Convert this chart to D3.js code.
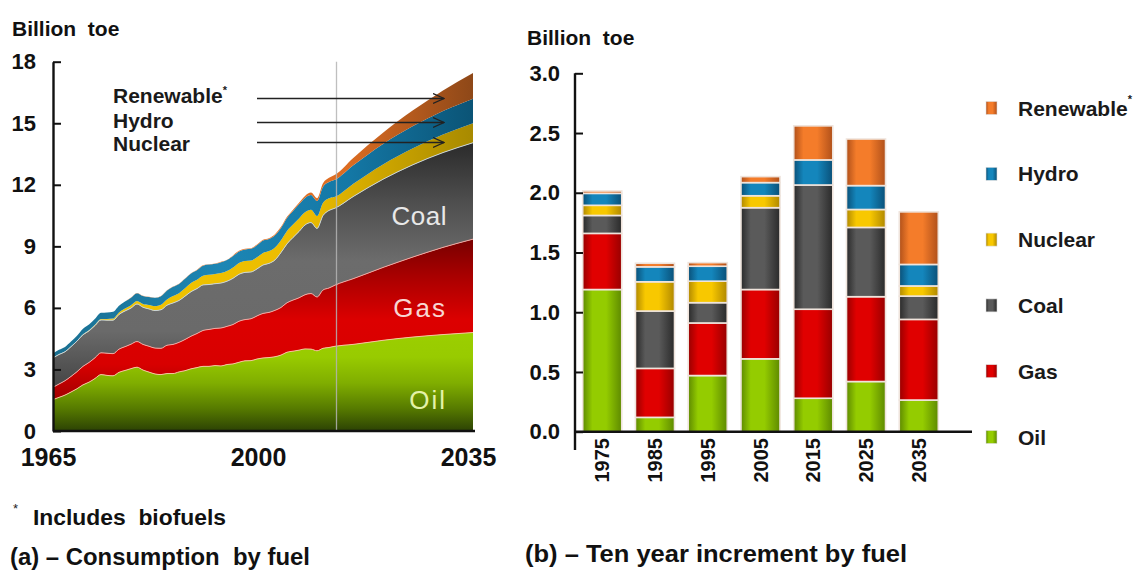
<!DOCTYPE html>
<html>
<head>
<meta charset="utf-8">
<script src="https://cdn.jsdelivr.net/npm/d3@7"></script>
<style>
  body { margin: 0; background: #fff; }
  svg { display: block; font-family: "Liberation Sans", Arial, Helvetica, sans-serif; }
</style>
</head>
<body>
<svg id="chart" width="1145" height="572"></svg>
<script>
// ---- (a) Consumption by fuel, billion toe ----
const years = [1965,1966,1967,1968,1969,1970,1971,1972,1973,1974,1975,1976,1977,1978,1979,
  1980,1981,1982,1983,1984,1985,1986,1987,1988,1989,1990,1991,1992,1993,1994,1995,1996,1997,
  1998,1999,2000,2001,2002,2003,2004,2005,2006,2007,2008,2009,2010,2011,2012,
  2015,2020,2025,2030,2035];
const oil = [1.53,1.64,1.75,1.90,2.06,2.25,2.38,2.56,2.75,2.71,2.69,2.86,2.95,3.04,3.11,
  2.97,2.87,2.78,2.75,2.80,2.80,2.88,2.94,3.03,3.09,3.15,3.15,3.19,3.17,3.24,3.27,3.35,3.42,
  3.43,3.51,3.56,3.58,3.62,3.70,3.84,3.89,3.94,4.00,3.99,3.91,4.03,4.07,4.13,
  4.22,4.42,4.58,4.70,4.80];
const gas = [0.60,0.65,0.70,0.76,0.83,0.90,0.96,1.01,1.06,1.08,1.08,1.13,1.16,1.19,1.25,
  1.25,1.26,1.26,1.28,1.38,1.42,1.44,1.52,1.59,1.66,1.75,1.80,1.81,1.85,1.86,1.92,2.00,2.01,
  2.04,2.10,2.17,2.20,2.26,2.32,2.41,2.49,2.55,2.64,2.71,2.62,2.84,2.90,2.98,
  3.20,3.55,3.90,4.25,4.55];
const coal = [1.43,1.44,1.41,1.45,1.49,1.54,1.54,1.57,1.60,1.61,1.63,1.69,1.74,1.76,1.83,
  1.81,1.82,1.83,1.88,1.95,2.02,2.04,2.11,2.17,2.19,2.22,2.19,2.18,2.19,2.20,2.25,2.29,2.30,
  2.28,2.29,2.36,2.39,2.46,2.68,2.87,3.05,3.23,3.40,3.46,3.34,3.63,3.78,3.75,
  4.00,4.30,4.50,4.62,4.70];
const nuclear = [0.01,0.01,0.01,0.01,0.01,0.02,0.03,0.04,0.05,0.06,0.08,0.10,0.12,0.14,0.15,
  0.16,0.19,0.21,0.24,0.28,0.34,0.36,0.39,0.42,0.43,0.45,0.47,0.47,0.49,0.50,0.53,0.55,0.55,
  0.56,0.57,0.59,0.60,0.61,0.60,0.63,0.63,0.64,0.62,0.62,0.61,0.63,0.60,0.56,
  0.62,0.72,0.80,0.88,0.95];
const hydro = [0.21,0.22,0.23,0.24,0.25,0.27,0.28,0.29,0.30,0.32,0.33,0.33,0.34,0.37,0.38,
  0.39,0.39,0.41,0.42,0.44,0.45,0.45,0.46,0.47,0.47,0.49,0.50,0.50,0.53,0.53,0.56,0.56,0.57,
  0.57,0.58,0.60,0.59,0.59,0.60,0.63,0.66,0.69,0.70,0.72,0.73,0.78,0.79,0.83,
  0.90,1.00,1.08,1.15,1.20];
const renewable = [0.00,0.00,0.00,0.00,0.00,0.00,0.00,0.00,0.00,0.00,0.00,0.00,0.00,0.01,0.01,
  0.01,0.01,0.01,0.01,0.01,0.01,0.01,0.01,0.01,0.02,0.02,0.02,0.02,0.02,0.02,0.03,0.03,0.03,
  0.03,0.04,0.04,0.04,0.05,0.05,0.06,0.07,0.08,0.10,0.12,0.14,0.17,0.20,0.24,
  0.36,0.55,0.77,1.00,1.25];
const lastHistoryYear = 2012;
const yearTicks = [1965, 2000, 2035];
const consumptionTicks = [0, 3, 6, 9, 12, 15, 18];

// ---- (b) Ten year increment by fuel, billion toe ----
const decades = ["1975","1985","1995","2005","2015","2025","2035"];
const incOil       = [1.19, 0.12, 0.47, 0.61, 0.28,  0.42, 0.265];
const incGas       = [0.47, 0.41, 0.44, 0.58, 0.745, 0.71, 0.675];
const incCoal      = [0.15, 0.48, 0.17, 0.685,1.04,  0.58, 0.195];
const incNuclear   = [0.085,0.245,0.18, 0.10, 0.00,  0.15, 0.085];
const incHydro     = [0.10, 0.125,0.125,0.11, 0.21,  0.20, 0.18];
const incRenewable = [0.02, 0.03, 0.03, 0.05, 0.285, 0.39, 0.44];
const incrementTicks = [0, 0.5, 1.0, 1.5, 2.0, 2.5, 3.0];

const fuels = ["Oil", "Gas", "Coal", "Nuclear", "Hydro", "Renewable"];

const svg = d3.select("#chart");
const defs = svg.append("defs");

function gradient(id, attrs, stops) {
  const g = defs.append("linearGradient").attr("id", id);
  Object.entries(attrs).forEach(([k, v]) => g.attr(k, v));
  stops.forEach(([o, c]) => g.append("stop").attr("offset", o).attr("stop-color", c));
}

// Area fills: shaded in plot space
const vAttrs = { gradientUnits: "userSpaceOnUse", x1: 0, x2: 0, y1: 61, y2: 431 };
const hAttrs = { gradientUnits: "userSpaceOnUse", x1: 53, x2: 473, y1: 0, y2: 0 };
gradient("aOil", vAttrs, [[0.72, "#9ccf00"], [0.80, "#98cb00"], [0.87, "#80ae00"], [0.94, "#567a00"], [1, "#2c4204"]]);
gradient("aGas", vAttrs, [[0.45, "#680000"], [0.58, "#a80000"], [0.70, "#dc0000"], [0.82, "#d80000"], [0.92, "#a00000"], [1, "#6a0000"]]);
gradient("aCoal", vAttrs, [[0.20, "#262626"], [0.38, "#4e4e4e"], [0.54, "#6c6c6c"], [0.73, "#6a6a6a"], [0.86, "#4a4a4a"], [0.97, "#343434"]]);
gradient("aNuclear", hAttrs, [[0, "#f2c800"], [0.6, "#ecbc00"], [1, "#a88a00"]]);
gradient("aHydro", hAttrs, [[0, "#1a6f90"], [0.4, "#1d86b4"], [0.7, "#1478a6"], [1, "#0b5476"]]);
gradient("aRenewable", hAttrs, [[0, "#f08030"], [0.7, "#dc6c22"], [1, "#8e4818"]]);

// Bar fills: cylinder-like shading across each bar
const barColors = {
  Oil: ["#5e8a00", "#94cc00"], Gas: ["#980000", "#e00000"], Coal: ["#2a2a2a", "#5a5a5a"],
  Nuclear: ["#b08800", "#f8c800"], Hydro: ["#0a5078", "#1486bc"], Renewable: ["#b0501a", "#f47c2a"]
};
fuels.forEach(f => {
  const [edge, mid] = barColors[f];
  gradient("b" + f, { x1: 0, x2: 1, y1: 0, y2: 0 },
    [[0, edge], [0.25, mid], [0.6, mid], [1, edge]]);
});

defs.append("marker").attr("id", "arrow")
  .attr("viewBox", "0 -6 12 12").attr("refX", 11).attr("refY", 0)
  .attr("markerUnits", "userSpaceOnUse").attr("markerWidth", 12).attr("markerHeight", 12)
  .attr("orient", "auto")
  .append("path").attr("d", "M0,-5L11,0L0,5").attr("fill", "none")
  .attr("stroke", "#222").attr("stroke-width", 1.3);

// ================= Panel (a): stacked area =================
const xA = d3.scaleLinear().domain([1965, 2035]).range([53, 473]);
const yA = d3.scaleLinear().domain([0, 18]).range([431, 61.7]);

const rows = years.map((y, i) => ({
  year: y, Oil: oil[i], Gas: gas[i], Coal: coal[i],
  Nuclear: nuclear[i], Hydro: hydro[i], Renewable: renewable[i]
}));
const layers = d3.stack().keys(fuels)(rows);

const area = d3.area()
  .x(d => xA(d.data.year)).y0(d => yA(d[0])).y1(d => yA(d[1]))
  .curve(d3.curveMonotoneX);

const gA = svg.append("g");
gA.selectAll("path.layer").data(layers).join("path")
  .attr("class", "layer")
  .attr("d", area)
  .attr("fill", d => `url(#a${d.key})`);

// thin light seams on top of oil, gas and coal
const seam = d3.line().x(d => xA(d.data.year)).y(d => yA(d[1])).curve(d3.curveMonotoneX);
const seamColor = { Oil: "#f3c89c", Gas: "#f2a7a0", Coal: "#c9d3d6" };
gA.selectAll("path.seam").data(layers.filter(l => seamColor[l.key])).join("path")
  .attr("class", "seam")
  .attr("d", seam).attr("fill", "none")
  .attr("stroke", d => seamColor[d.key]).attr("stroke-width", 1);

// boundary between history and projection
gA.append("line")
  .attr("x1", xA(lastHistoryYear) + 1.5).attr("x2", xA(lastHistoryYear) + 1.5)
  .attr("y1", yA(18)).attr("y2", yA(0))
  .attr("stroke", "#b4b4b4").attr("stroke-width", 1.3).attr("opacity", 0.85);

// axes
const axA = svg.append("g").attr("transform", `translate(${xA(1965)},0)`)
  .call(d3.axisLeft(yA).tickValues(consumptionTicks).tickFormat(d3.format("d"))
    .tickSizeInner(-8).tickSizeOuter(0).tickPadding(17));
axA.selectAll("text").attr("font-size", 22).attr("font-weight", "bold").attr("fill", "#111")
  .attr("font-family", "'Liberation Sans', Arial, sans-serif");
axA.selectAll("line").attr("stroke", "#111").attr("stroke-width", 2);
axA.select(".domain").attr("stroke", "#111").attr("stroke-width", 2.4);

const bxA = svg.append("g").attr("transform", `translate(0,${yA(0)})`)
  .call(d3.axisBottom(xA).tickValues(yearTicks).tickFormat(d3.format("d"))
    .tickSize(0).tickPadding(17));
bxA.select(".domain").attr("d", `M${xA(1965)},0H475`).attr("stroke", "#111").attr("stroke-width", 2.4);
bxA.selectAll("text").attr("font-size", 25).attr("font-weight", "bold").attr("fill", "#111")
  .attr("x", -5).attr("font-family", "'Liberation Sans', Arial, sans-serif");

svg.append("text").attr("x", 12).attr("y", 36)
  .attr("font-size", 21).attr("font-weight", "bold").attr("fill", "#111")
  .attr("xml:space", "preserve").text("Billion  toe");

// labels for the thin upper layers, with pointers
const pointerLabels = [
  { name: "Renewable", star: true, y: 103, ay: 98.5 },
  { name: "Hydro", star: false, y: 127.5, ay: 122.5 },
  { name: "Nuclear", star: false, y: 151, ay: 142.5 }
];
pointerLabels.forEach(p => {
  const t = svg.append("text").attr("x", 113).attr("y", p.y)
    .attr("font-size", 21).attr("font-weight", "bold").attr("fill", "#1a1a1a").text(p.name);
  if (p.star) t.append("tspan").attr("font-size", 11).attr("dy", -9).text("*");
  svg.append("line").attr("x1", 257).attr("x2", 444).attr("y1", p.ay).attr("y2", p.ay)
    .attr("stroke", "#222").attr("stroke-width", 1.4).attr("marker-end", "url(#arrow)");
});

// in-area labels
const areaLabels = [
  { text: "Coal", y: 225, fill: "#e8e8e8", ls: 0.5 },
  { text: "Gas", y: 317, fill: "#f8d6d2", ls: 2 },
  { text: "Oil", y: 409, fill: "#e4f2a8", ls: 2 }
];
areaLabels.forEach(l => {
  svg.append("text").attr("x", 447).attr("y", l.y).attr("text-anchor", "end")
    .attr("font-size", 26).attr("letter-spacing", l.ls).attr("fill", l.fill).text(l.text);
});

// ================= Panel (b): stacked bars =================
const xB = d3.scaleBand().domain(decades).range([575, 946]).paddingInner(0.26).paddingOuter(0.146);
const yB = d3.scaleLinear().domain([0, 3]).range([431.7, 73.3]);

const barRows = decades.map((d, i) => ({
  decade: d, Oil: incOil[i], Gas: incGas[i], Coal: incCoal[i],
  Nuclear: incNuclear[i], Hydro: incHydro[i], Renewable: incRenewable[i]
}));
const barLayers = d3.stack().keys(fuels)(barRows);

const gB = svg.append("g");
gB.selectAll("g.series").data(barLayers).join("g")
  .attr("class", "series")
  .attr("fill", d => `url(#b${d.key})`)
  .selectAll("rect").data(d => d.filter(s => s[1] - s[0] > 0)).join("rect")
  .attr("x", d => xB(d.data.decade))
  .attr("width", xB.bandwidth())
  .attr("y", d => yB(d[1]))
  .attr("height", d => yB(d[0]) - yB(d[1]))
  .attr("stroke", "#efe4dc").attr("stroke-width", 1.6);

// axes
const axB = svg.append("g").attr("transform", "translate(575,0)")
  .call(d3.axisLeft(yB).tickValues(incrementTicks).tickFormat(d3.format(".1f"))
    .tickSizeInner(-8).tickSizeOuter(0).tickPadding(15));
axB.select(".domain").remove();
axB.selectAll("text").attr("font-size", 22).attr("font-weight", "bold").attr("fill", "#111")
  .attr("font-family", "'Liberation Sans', Arial, sans-serif");
axB.selectAll("line").attr("stroke", "#111").attr("stroke-width", 2);
svg.append("line").attr("x1", 575).attr("x2", 575).attr("y1", yB(3)).attr("y2", 450)
  .attr("stroke", "#111").attr("stroke-width", 2.4);
svg.append("line").attr("x1", 575).attr("x2", 972).attr("y1", yB(0)).attr("y2", yB(0))
  .attr("stroke", "#111").attr("stroke-width", 2.4);

svg.append("g").selectAll("text").data(decades).join("text")
  .attr("transform", d => `translate(${xB(d) + xB.bandwidth() / 2},438) rotate(-90)`)
  .attr("text-anchor", "end").attr("dominant-baseline", "central")
  .attr("font-size", 20).attr("font-weight", "bold").attr("fill", "#111")
  .text(d => d);

svg.append("text").attr("x", 527).attr("y", 45)
  .attr("font-size", 21).attr("font-weight", "bold").attr("fill", "#111")
  .attr("xml:space", "preserve").text("Billion  toe");

// legend, top to bottom
const legendKeys = fuels.slice().reverse();
const lg = svg.append("g").selectAll("g").data(legendKeys).join("g")
  .attr("transform", (d, i) => `translate(986,${108 + i * 65.8})`);
lg.append("rect").attr("x", 0).attr("y", -6.5).attr("width", 11).attr("height", 13)
  .attr("fill", d => `url(#b${d})`).attr("stroke", "#ddd").attr("stroke-width", 0.6);
const lt = lg.append("text").attr("x", 32).attr("y", 0).attr("dominant-baseline", "central")
  .attr("font-size", 21).attr("font-weight", "bold").attr("fill", "#1a1a1a").text(d => d);
lt.filter(d => d === "Renewable").append("tspan").attr("font-size", 11).attr("dy", -9).text("*");

// ================= notes and captions =================
svg.append("text").attr("x", 13).attr("y", 513).attr("font-size", 13).attr("fill", "#222").text("*");
svg.append("text").attr("x", 33).attr("y", 524.5)
  .attr("font-size", 22.5).attr("font-weight", "bold").attr("fill", "#111")
  .attr("xml:space", "preserve").attr("textLength", 193).attr("lengthAdjust", "spacingAndGlyphs")
  .text("Includes  biofuels");
svg.append("text").attr("x", 10).attr("y", 564.5)
  .attr("font-size", 24).attr("font-weight", "bold").attr("fill", "#111")
  .attr("xml:space", "preserve").attr("textLength", 300).attr("lengthAdjust", "spacingAndGlyphs")
  .text("(a) \u2013 Consumption  by fuel");
svg.append("text").attr("x", 525).attr("y", 562)
  .attr("font-size", 24).attr("font-weight", "bold").attr("fill", "#111")
  .attr("textLength", 382).attr("lengthAdjust", "spacingAndGlyphs")
  .text("(b) \u2013 Ten year increment by fuel");
</script>
</body>
</html>
